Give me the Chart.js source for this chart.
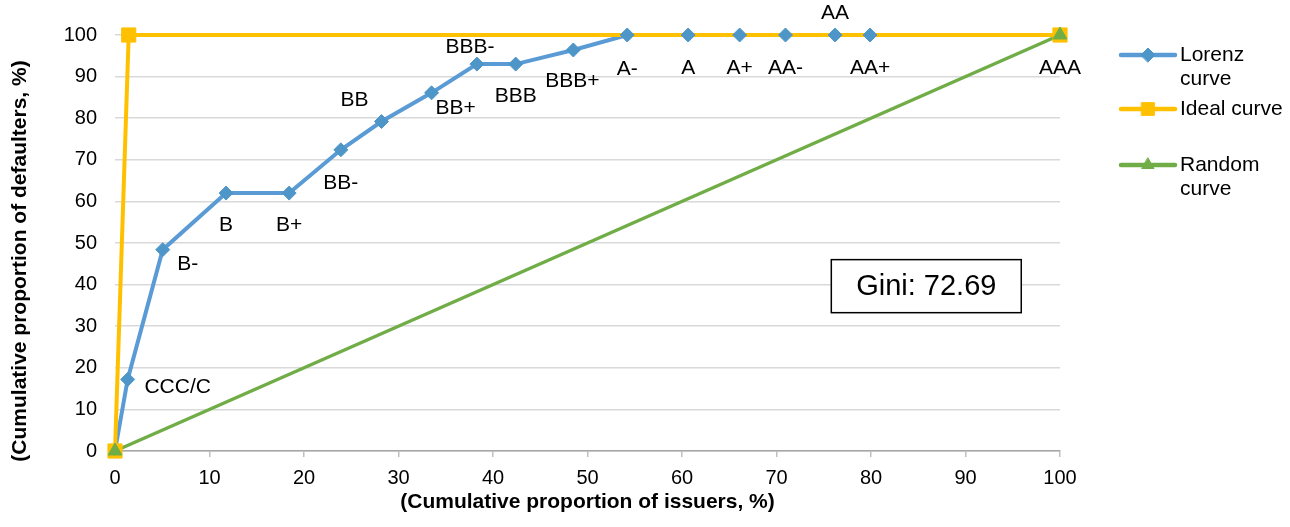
<!DOCTYPE html>
<html>
<head>
<meta charset="utf-8">
<script src="https://cdn.jsdelivr.net/npm/chart.js@4"></script>
<style>
html,body{margin:0;padding:0;background:#fff;}
#wrap{width:1290px;height:527px;}
</style>
</head>
<body>
<div id="wrap"><canvas id="c" width="1290" height="527"></canvas></div>
<script>
// ---- data ----
const ratings = ['', 'CCC/C', 'B-', 'B', 'B+', 'BB-', 'BB', 'BB+', 'BBB-', 'BBB', 'BBB+', 'A-', 'A', 'A+', 'AA-', 'AA', 'AA+', 'AAA'];
const issuersPct = [0, 1.34, 5.05, 11.75, 18.43, 23.9, 28.2, 33.5, 38.3, 42.4, 48.5, 54.2, 60.65, 66.1, 70.95, 76.2, 79.9, 100];
const lorenzPct  = [0, 17.2, 48.4, 62.0, 62.0, 72.4, 79.2, 86.1, 93.0, 93.0, 96.4, 100, 100, 100, 100, 100, 100, 100];
const idealX = [0, 1.45, 100];
const idealY = [0, 100, 100];
const randomX = [0, 100];
const randomY = [0, 100];
const yTicks = [0, 10, 20, 30, 40, 50, 60, 70, 80, 90, 100];
const xTicks = [0, 10, 20, 30, 40, 50, 60, 70, 80, 90, 100];
const giniText = 'Gini: 72.69';
const seriesNames = [['Lorenz', 'curve'], ['Ideal curve'], ['Random', 'curve']];
const xTitle = '(Cumulative proportion of issuers, %)';
const yTitle = '(Cumulative proportion of defaulters, %)';

// ---- label placement (text centre offset from its point, px) ----
const labelOffsets = [
  null, [50, 8], [25, 15], [0, 32], [0, 32], [0, 33], [-27, -21], [24, 15], [-7, -17],
  [0, 32], [-1, 31], [0, 34], [0, 33], [0, 33], [0, 33], [0, -22], [0, 33], [0, 33]
];

const BLUE = '#5B9BD5', BLUE_M = '#4E96C8', YELLOW = '#FFC000', GREEN = '#70AD47';
const FONT = '"Liberation Sans", Arial, sans-serif';

const toXY = (xs, ys) => xs.map((x, i) => ({x: x, y: ys[i]}));

const lorenzData = toXY(issuersPct, lorenzPct);
const idealData = toXY(idealX, idealY);
const randomData = toXY(randomX, randomY);

const labelPlugin = {
  id: 'ratingLabels',
  afterDatasetsDraw(chart) {
    const meta = chart.getDatasetMeta(3);
    const ctx = chart.ctx;
    ctx.save();
    ctx.font = '21px ' + FONT;
    ctx.fillStyle = '#000';
    ctx.textAlign = 'center';
    ctx.textBaseline = 'middle';
    meta.data.forEach((pt, i) => {
      const off = labelOffsets[i];
      if (!off || !ratings[i]) return;
      ctx.fillText(ratings[i], pt.x + off[0], pt.y + off[1]);
    });
    ctx.restore();
  }
};

const giniPlugin = {
  id: 'giniBox',
  afterDatasetsDraw(chart) {
    const xs = chart.scales.x, ys = chart.scales.y;
    const l = xs.getPixelForValue(75.8), r = xs.getPixelForValue(95.9);
    const t = ys.getPixelForValue(46.0), b = ys.getPixelForValue(33.25);
    const ctx = chart.ctx;
    ctx.save();
    ctx.fillStyle = '#fff';
    ctx.fillRect(l, t, r - l, b - t);
    ctx.strokeStyle = '#000';
    ctx.lineWidth = 1.5;
    ctx.strokeRect(l, t, r - l, b - t);
    ctx.fillStyle = '#000';
    ctx.font = '29px ' + FONT;
    ctx.textAlign = 'center';
    ctx.textBaseline = 'middle';
    ctx.fillText(giniText, (l + r) / 2, (t + b) / 2 + 1);
    ctx.restore();
  }
};

const yTitlePlugin = {
  id: 'yTitle',
  afterDraw(chart) {
    const ctx = chart.ctx;
    const ca = chart.chartArea;
    ctx.save();
    ctx.translate(20, (ca.top + ca.bottom) / 2 + 18);
    ctx.rotate(-Math.PI / 2);
    ctx.font = 'bold 21px ' + FONT;
    ctx.fillStyle = '#000';
    ctx.textAlign = 'center';
    ctx.textBaseline = 'middle';
    ctx.fillText(yTitle, 0, 0);
    ctx.restore();
  }
};

const legendPlugin = {
  id: 'sideLegend',
  afterDraw(chart) {
    const ctx = chart.ctx;
    const x0 = chart.chartArea.right + 61;
    const items = [
      {color: BLUE, mcolor: BLUE_M, style: 'rectRot', r: 7, y: 55},
      {color: YELLOW, mcolor: YELLOW, style: 'rect', r: 9, y: 109},
      {color: GREEN, mcolor: GREEN, style: 'triangle', r: 7, y: 165}
    ];
    ctx.save();
    items.forEach((it, i) => {
      ctx.strokeStyle = it.color;
      ctx.lineWidth = 4.5;
      ctx.lineCap = 'round';
      ctx.beginPath();
      ctx.moveTo(x0, it.y);
      ctx.lineTo(x0 + 54, it.y);
      ctx.stroke();
      ctx.fillStyle = it.mcolor;
      ctx.strokeStyle = it.mcolor;
      ctx.lineWidth = 1;
      Chart.helpers.drawPoint(ctx, {pointStyle: it.style, radius: it.r, borderWidth: 1, rotation: 0}, x0 + 27, it.y);
      ctx.fillStyle = '#000';
      ctx.font = '21px ' + FONT;
      ctx.textAlign = 'left';
      ctx.textBaseline = 'middle';
      seriesNames[i].forEach((line, k) => ctx.fillText(line, x0 + 59, it.y + k * 24));
    });
    ctx.restore();
  }
};

new Chart(document.getElementById('c'), {
  type: 'scatter',
  data: {
    datasets: [
      {label: 'Lorenz curve line', data: lorenzData, showLine: true, borderColor: BLUE, borderWidth: 4, pointRadius: 0, order: 6, clip: false},
      {label: 'Ideal curve line', data: idealData, showLine: true, borderColor: YELLOW, borderWidth: 4, pointRadius: 0, order: 5, clip: false},
      {label: 'Random curve line', data: randomData, showLine: true, borderColor: GREEN, borderWidth: 3.5, pointRadius: 0, order: 4, clip: false},
      {label: 'Lorenz curve', data: lorenzData, showLine: false, pointStyle: 'rectRot', pointRadius: 7, backgroundColor: BLUE_M, borderColor: BLUE_M, borderWidth: 1, order: 3, clip: false},
      {label: 'Ideal curve', data: idealData, showLine: false, pointStyle: 'rect', pointRadius: 10, backgroundColor: YELLOW, borderColor: YELLOW, borderWidth: 1, order: 2, clip: false},
      {label: 'Random curve', data: randomData, showLine: false, pointStyle: 'triangle', pointRadius: 8, backgroundColor: GREEN, borderColor: GREEN, borderWidth: 1, order: 1, clip: false}
    ]
  },
  options: {
    responsive: false,
    animation: false,
    events: [],
    layout: {padding: {top: 35, right: 230, left: 0, bottom: 0}},
    plugins: {legend: {display: false}, tooltip: {enabled: false}},
    scales: {
      x: {
        type: 'linear', min: 0, max: 100,
        afterBuildTicks: (s) => { s.ticks = xTicks.map(v => ({value: v})); },
        afterFit: (s) => { s.height = 76; },
        grid: {display: true, drawOnChartArea: false, drawTicks: true, tickLength: 6, color: '#bfbfbf', lineWidth: 1.5},
        border: {display: true, color: '#a6a6a6', width: 1.5},
        ticks: {font: {family: FONT, size: 20}, color: '#000', padding: 9, maxRotation: 0},
        title: {display: true, text: xTitle, font: {family: FONT, size: 21, weight: 'bold'}, color: '#000', padding: {top: 0, bottom: 12}}
      },
      y: {
        type: 'linear', min: 0, max: 100,
        afterBuildTicks: (s) => { s.ticks = yTicks.map(v => ({value: v})); },
        afterFit: (s) => { s.width = 115; },
        grid: {display: true, drawTicks: false, color: '#d9d9d9', lineWidth: 1.5},
        border: {display: false},
        ticks: {font: {family: FONT, size: 20}, color: '#000', padding: 18},
        title: {display: false, text: yTitle}
      }
    }
  },
  plugins: [labelPlugin, giniPlugin, yTitlePlugin, legendPlugin]
});
</script>
</body>
</html>
